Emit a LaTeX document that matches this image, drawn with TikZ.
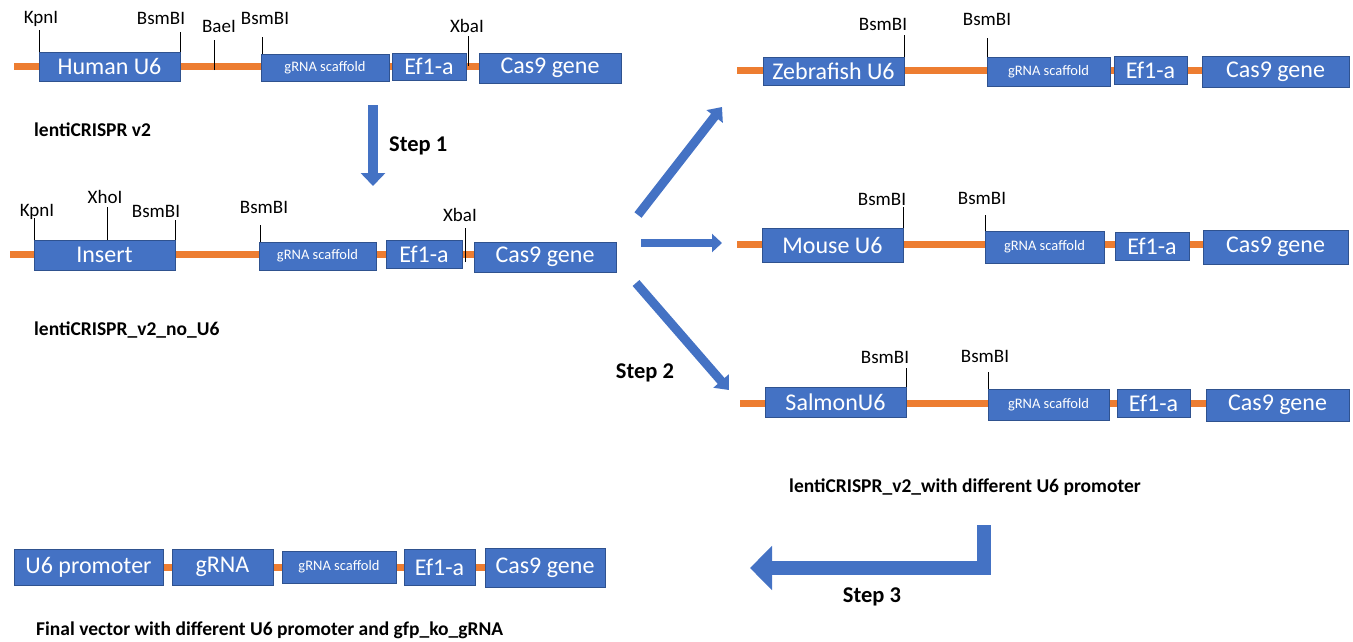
\documentclass[tikz,border=0pt]{standalone}
\usepackage{fontspec}
\setmainfont{Carlito}
\usetikzlibrary{arrows.meta}
\definecolor{boxblue}{HTML}{4472C4}
\definecolor{boxedge}{HTML}{2F528F}
\definecolor{dna}{HTML}{ED7D31}
\tikzset{
  gene/.style={draw=boxedge, line width=0.8pt, fill=boxblue, text=white, inner sep=0pt,
    font=\fontsize{24}{26}\selectfont},
  scaf/.style={gene, font=\fontsize{14.5}{16}\selectfont},
  dnaline/.style={draw=dna, line width=7pt},
  tick/.style={draw=black, line width=0.8pt},
  sitelbl/.style={font=\fontsize{19}{21}\selectfont, inner sep=0pt},
  caption/.style={font=\bfseries\fontsize{19.5}{22}\selectfont, inner sep=0pt, anchor=west},
  steplbl/.style={font=\bfseries\fontsize{22.5}{25}\selectfont, inner sep=0pt},
  blockarrow/.style={draw=boxblue, line width=#1, line join=miter},
}
% #1 name, #2 x1, #3 y1, #4 x2, #5 y2, #6 style, #7 text
\newcommand\gbox[7]{\node[#6, minimum width={(#4-(#2))*1pt}, minimum height={(#5-(#3))*1pt}]
  (#1) at ({(#2+#4)/2},{(#3+#5)/2}) {#7};}
% #1 name, #2 x, #3 ybottom, #4 ytop, #5 label x, #6 label y, #7 text
\newcommand\site[7]{\coordinate (#1b) at (#2,#3); \coordinate (#1t) at (#2,#4);
  \node[sitelbl] (#1) at (#5,#6) {#7}; \draw[tick] (#1b) -- (#1t);}
\begin{document}
\begin{tikzpicture}[x=1pt,y=-1pt]
\useasboundingbox (0,0) rectangle (1353,641);

% ---------- Row 1: lentiCRISPR v2 ----------
\coordinate (a0) at (14,66); \coordinate (a1) at (480,66);
\draw[dnaline] (a0) -- (a1);
\site{a-kpn}{39}{52}{30}{41}{19}{KpnI}
\site{a-bsm1}{180}{52}{32}{161}{18}{BsmBI}
\site{a-bae}{214}{70}{40}{219}{26}{BaeI}
\site{a-bsm2}{262}{54}{37}{265}{18}{BsmBI}
\site{a-xba}{468}{66}{36}{467}{26}{XbaI}
\gbox{a-u6}{39}{52}{180}{81}{gene}{Human U6}
\gbox{a-scaf}{261}{54}{389}{81}{scaf}{gRNA scaffold}
\gbox{a-ef}{392}{53}{466}{80}{gene}{Ef1-a}
\gbox{a-cas}{479}{53}{621}{83}{gene}{Cas9 gene}
\node[caption] (capA) at (34,130) {lentiCRISPR v2};

% ---------- Row 2: lentiCRISPR_v2_no_U6 ----------
\coordinate (b0) at (10,254); \coordinate (b1) at (476,254);
\draw[dnaline] (b0) -- (b1);
\site{b-kpn}{34}{240}{218}{37}{212}{KpnI}
\site{b-xho}{107}{240}{207}{105}{197}{XhoI}
\site{b-bsm1}{175}{240}{220}{156}{211}{BsmBI}
\site{b-bsm2}{260}{242}{225}{264}{207}{BsmBI}
\site{b-xba}{465}{262}{228}{460}{215}{XbaI}
\gbox{b-ins}{34}{240}{175}{270}{gene}{Insert}
\gbox{b-scaf}{259}{242}{376}{270}{scaf}{gRNA scaffold}
\gbox{b-ef}{386}{240}{462}{268}{gene}{Ef1-a}
\gbox{b-cas}{474}{242}{616}{272}{gene}{Cas9 gene}
\node[caption] (capB) at (34,330) {lentiCRISPR\_v2\_no\_U6};

% ---------- Right rows ----------
% Zebrafish
\coordinate (z0) at (737,70); \coordinate (z1) at (1210,70);
\draw[dnaline] (z0) -- (z1);
\site{z-bsm1}{904}{57}{35}{883}{24}{BsmBI}
\site{z-bsm2}{987}{57}{38}{987}{19}{BsmBI}
\gbox{z-u6}{763}{57}{904}{85}{gene}{Zebrafish U6}
\gbox{z-scaf}{987}{57}{1110}{86}{scaf}{gRNA scaffold}
\gbox{z-ef}{1114}{56}{1187}{84}{gene}{Ef1-a}
\gbox{z-cas}{1202}{56}{1349}{87}{gene}{Cas9 gene}
% Mouse
\coordinate (m0) at (737,244); \coordinate (m1) at (1210,244);
\draw[dnaline] (m0) -- (m1);
\site{m-bsm1}{903}{228}{207}{882}{199}{BsmBI}
\site{m-bsm2}{985}{231}{215}{982}{198}{BsmBI}
\gbox{m-u6}{762}{228}{903}{262}{gene}{Mouse U6}
\gbox{m-scaf}{985}{231}{1104}{263}{scaf}{gRNA scaffold}
\gbox{m-ef}{1115}{232}{1189}{260}{gene}{Ef1-a}
\gbox{m-cas}{1203}{230}{1348}{264}{gene}{Cas9 gene}
% Salmon
\coordinate (s0) at (740,403); \coordinate (s1) at (1215,403);
\draw[dnaline] (s0) -- (s1);
\site{s-bsm1}{906}{387}{368}{885}{357}{BsmBI}
\site{s-bsm2}{988}{389}{372}{985}{356}{BsmBI}
\gbox{s-u6}{765}{387}{906}{417}{gene}{SalmonU6}
\gbox{s-scaf}{988}{389}{1109}{420}{scaf}{gRNA scaffold}
\gbox{s-ef}{1117}{389}{1190}{417}{gene}{Ef1-a}
\gbox{s-cas}{1206}{389}{1349}{421}{gene}{Cas9 gene}
\node[caption] (capC) at (789,487) {lentiCRISPR\_v2\_with different U6 promoter};

% ---------- Final vector ----------
\coordinate (f0) at (160,567); \coordinate (f1) at (490,567);
\draw[dnaline] (f0) -- (f1);
\gbox{f-u6}{14}{549}{163}{585}{gene}{U6 promoter}
\gbox{f-g}{172}{549}{273}{585}{gene}{gRNA}
\gbox{f-scaf}{282}{551}{396}{583}{scaf}{gRNA scaffold}
\gbox{f-ef}{404}{549}{475}{585}{gene}{Ef1-a}
\gbox{f-cas}{485}{548}{605}{587}{gene}{Cas9 gene}
\node[caption] (capD) at (36,630) {Final vector with different U6 promoter and gfp\_ko\_gRNA};

% ---------- Arrows ----------
\coordinate (s1a) at (373,105); \coordinate (s1b) at (373,186);
\draw[blockarrow=10pt, -{Triangle[width=24pt,length=13pt,fill=boxblue]}] (s1a) -- (s1b);
\node[steplbl, anchor=west] (st1) at (389,146) {Step 1};

\coordinate (up0) at (638,215); \coordinate (up1) at (722,107);
\draw[blockarrow=9pt, -{Triangle[width=20pt,length=12pt,fill=boxblue]}] (up0) -- (up1);
\coordinate (mid0) at (641,243); \coordinate (mid1) at (722,243);
\draw[blockarrow=8pt, -{Triangle[width=18pt,length=10pt,fill=boxblue]}] (mid0) -- (mid1);
\coordinate (dn0) at (636,283); \coordinate (dn1) at (729,390);
\draw[blockarrow=9pt, -{Triangle[width=20pt,length=12pt,fill=boxblue]}] (dn0) -- (dn1);
\node[steplbl] (st2) at (645,373) {Step 2};

\coordinate (b3a) at (984,525); \coordinate (b3b) at (750,568);
\draw[blockarrow=14pt, -{Triangle[width=43pt,length=22pt,fill=boxblue]}] (b3a) |- (b3b);
\node[steplbl] (st3) at (872,597) {Step 3};
\end{tikzpicture}
\end{document}
